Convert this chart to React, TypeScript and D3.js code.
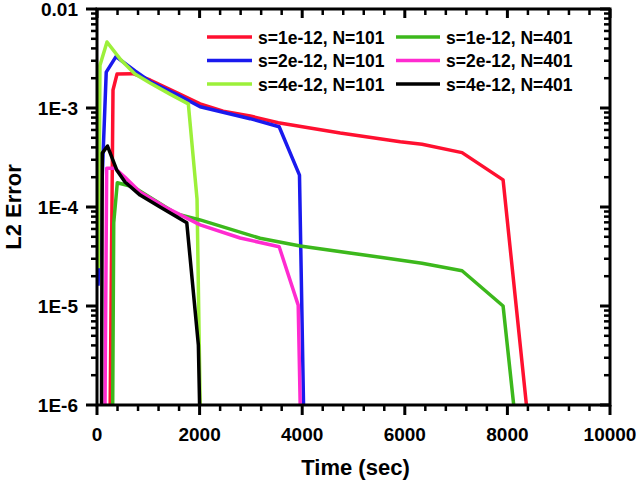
import React from "react";
import * as d3 from "d3";

const W = 640;
const H = 484;

const xTicksMajor = [0, 2000, 4000, 6000, 8000, 10000];
const yTicksMajor = [1e-6, 1e-5, 1e-4, 1e-3, 1e-2];
const yTickLabels = ["1E-6", "1E-5", "1E-4", "1E-3", "0.01"];

const redT = [257, 312, 390, 700, 1034, 1561, 2010, 2459, 2985, 3532, 4741, 5912, 6336, 7116, 7916, 8371];
const redY = [1e-6, 1.52e-3, 2.2e-3, 2.22e-3, 1.92e-3, 1.42e-3, 1.1e-3, 9.3e-4, 8.3e-4, 7.1e-4, 5.58e-4, 4.57e-4, 4.3e-4, 3.54e-4, 1.88e-4, 1e-6];

const blueT = [20, 180, 370, 741, 1034, 1561, 2010, 2985, 3551, 3947, 4026];
const blueY = [1.6e-5, 2.3e-3, 3.3e-3, 2.37e-3, 1.85e-3, 1.37e-3, 1.03e-3, 7.8e-4, 6.47e-4, 2.1e-4, 1e-6];

const lgreenT = [30, 58, 195, 468, 741, 1034, 1424, 1780, 1950, 2011];
const lgreenY = [2.4e-5, 2.7e-3, 4.64e-3, 3.05e-3, 2.2e-3, 1.79e-3, 1.38e-3, 1.1e-3, 1.2e-4, 1e-6];

const dgreenT = [306, 326, 396, 702, 1555, 2010, 3180, 3961, 5522, 6336, 7116, 7916, 8123];
const dgreenY = [1e-6, 6.9e-5, 1.76e-4, 1.6e-4, 8.5e-5, 7.4e-5, 4.83e-5, 4.04e-5, 3.1e-5, 2.7e-5, 2.27e-5, 1.0e-5, 1e-6];

const magentaT = [156, 189, 351, 546, 839, 1327, 2010, 2790, 3551, 3922, 3961];
const magentaY = [1e-6, 2.46e-4, 2.46e-4, 2.0e-4, 1.42e-4, 1.0e-4, 6.6e-5, 4.86e-5, 3.97e-5, 1.02e-5, 1e-6];

const blackT = [88, 103, 205, 384, 546, 839, 1229, 1750, 1976, 2000];
const blackY = [1e-6, 3.5e-4, 4.13e-4, 2.37e-4, 1.79e-4, 1.32e-4, 1.0e-4, 6.93e-5, 4.04e-6, 1e-6];

const seriesNames = [
  "s=1e-12, N=101",
  "s=2e-12, N=101",
  "s=4e-12, N=101",
  "s=1e-12, N=401",
  "s=2e-12, N=401",
  "s=4e-12, N=401",
];
const seriesColors = ["#ff1030", "#1a1aee", "#9cf03a", "#3cb81c", "#ff2bd0", "#000000"];
const seriesT = [redT, blueT, lgreenT, dgreenT, magentaT, blackT];
const seriesY = [redY, blueY, lgreenY, dgreenY, magentaY, blackY];

const FONT = "'Liberation Sans', Arial, Helvetica, sans-serif";

export default function App() {
  const left = 97, right = 610, top = 9, bottom = 405;
  const x = d3.scaleLinear().domain([0, 10000]).range([left, right]);
  const y = d3.scaleLog().domain([1e-6, 1e-2]).range([bottom, top]);

  const line = d3
    .line<[number, number]>()
    .x((d) => x(d[0]))
    .y((d) => y(d[1]));

  const xMinor = d3.range(0, 10001, 400).filter((v) => v % 2000 !== 0);
  const yMinor: number[] = [];
  for (let e = -6; e < -2; e++) {
    for (let m = 2; m <= 9; m++) yMinor.push(m * Math.pow(10, e));
  }

  const legendRows = [37, 60.5, 84];
  const legendCols = [
    { lx0: 207, lx1: 252, tx: 258 },
    { lx0: 396, lx1: 440, tx: 446 },
  ];

  return (
    <svg
      width={W}
      height={H}
      style={{ position: "absolute", left: 0, top: 0, background: "#fff" }}
      fontFamily={FONT}
    >
      <defs>
        <clipPath id="plotclip">
          <rect x={left} y={top} width={right - left} height={bottom - top} />
        </clipPath>
      </defs>
      <rect x={0} y={0} width={W} height={H} fill="#fff" />

      <g clipPath="url(#plotclip)">
        {seriesT.map((ts, i) => (
          <path
            key={i}
            d={line(ts.map((t, j) => [t, seriesY[i][j]] as [number, number])) || ""}
            fill="none"
            stroke={seriesColors[i]}
            strokeWidth={3.5}
            strokeLinejoin="round"
          />
        ))}
      </g>

      {/* frame */}
      <rect x={left} y={top} width={right - left} height={bottom - top} fill="none" stroke="#000" strokeWidth={3} />

      {/* bottom ticks (outward) */}
      {xTicksMajor.map((v) => (
        <line key={"bx" + v} x1={x(v)} x2={x(v)} y1={bottom} y2={bottom + 10} stroke="#000" strokeWidth={3} />
      ))}
      {xMinor.map((v) => (
        <line key={"bm" + v} x1={x(v)} x2={x(v)} y1={bottom} y2={bottom + 6} stroke="#000" strokeWidth={2.5} />
      ))}
      {/* top ticks (inward) */}
      {xTicksMajor.map((v) => (
        <line key={"tx" + v} x1={x(v)} x2={x(v)} y1={top} y2={top + 9} stroke="#000" strokeWidth={3} />
      ))}
      {xMinor.map((v) => (
        <line key={"tm" + v} x1={x(v)} x2={x(v)} y1={top} y2={top + 6} stroke="#000" strokeWidth={2.5} />
      ))}
      {/* left ticks (outward) */}
      {yTicksMajor.map((v) => (
        <line key={"ly" + v} x1={left - 11} x2={left} y1={y(v)} y2={y(v)} stroke="#000" strokeWidth={3} />
      ))}
      {yMinor.map((v) => (
        <line key={"lm" + v} x1={left - 6} x2={left} y1={y(v)} y2={y(v)} stroke="#000" strokeWidth={2.5} />
      ))}
      {/* right ticks (inward) */}
      {yTicksMajor.map((v) => (
        <line key={"ry" + v} x1={right - 10} x2={right} y1={y(v)} y2={y(v)} stroke="#000" strokeWidth={3} />
      ))}
      {yMinor.map((v) => (
        <line key={"rm" + v} x1={right - 6} x2={right} y1={y(v)} y2={y(v)} stroke="#000" strokeWidth={2.5} />
      ))}

      {/* tick labels */}
      {xTicksMajor.map((v) => (
        <text key={"xl" + v} x={x(v)} y={441} textAnchor="middle" fontSize={19} fontWeight="bold">
          {String(v)}
        </text>
      ))}
      {yTicksMajor.map((v, i) => (
        <text key={"yl" + v} x={78} y={y(v) + 7} textAnchor="end" fontSize={19} fontWeight="bold">
          {yTickLabels[i]}
        </text>
      ))}

      {/* axis titles */}
      <text x={(left + right) / 2 + 2} y={475} textAnchor="middle" fontSize={22} fontWeight="bold">
        Time (sec)
      </text>
      <text
        transform={`translate(20.5, ${(top + bottom) / 2}) rotate(-90)`}
        textAnchor="middle"
        fontSize={22}
        fontWeight="bold"
      >
        L2 Error
      </text>

      {/* legend */}
      {seriesNames.map((name, i) => {
        const col = legendCols[Math.floor(i / 3)];
        const ry = legendRows[i % 3];
        return (
          <g key={"lg" + i}>
            <line x1={col.lx0} x2={col.lx1} y1={ry} y2={ry} stroke={seriesColors[i]} strokeWidth={3.5} />
            <text x={col.tx} y={ry + 6.5} fontSize={17.5} fontWeight="bold">
              {name}
            </text>
          </g>
        );
      })}
    </svg>
  );
}
